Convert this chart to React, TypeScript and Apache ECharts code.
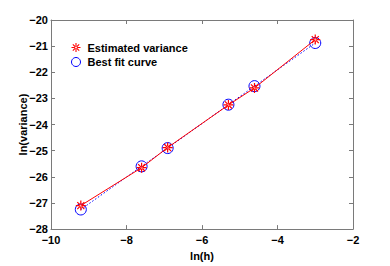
import React, { useEffect, useRef } from "react";
import * as echarts from "echarts";

const lnH = [-9.21, -7.6, -6.91, -5.3, -4.61, -3.0];
const estimatedVariance = [-27.1, -25.65, -24.88, -23.25, -22.6, -20.75];
const bestFit = [-27.25, -25.6, -24.9, -23.24, -22.53, -20.88];
const seriesNames = ["Estimated variance", "Best fit curve"];
const xName = "ln(h)";
const yName = "ln(variance)";

const ASTERISK =
  "path://M-0.6,-5L0.6,-5L0.6,5L-0.6,5ZM-5,-0.6L5,-0.6L5,0.6L-5,0.6Z" +
  "M-3.95,-3.1L3.1,3.95L3.95,3.1L-3.1,-3.95Z" +
  "M3.1,-3.95L-3.95,3.1L-3.1,3.95L3.95,-3.1Z";

const FONT = "'Liberation Sans', Arial, Helvetica, sans-serif";
const AXIS_COLOR = "#7a7a7a";

const fmt = (v: number) => (v < 0 ? "\u2212" + Math.abs(v) : String(v));

export default function App() {
  const ref = useRef<HTMLDivElement>(null);
  useEffect(() => {
    document.body.style.margin = "0";
    if (!ref.current) return;
    const chart = echarts.init(ref.current, null, { renderer: "svg" });
    const tickCommon = {
      show: true,
      inside: true,
      length: 4,
      lineStyle: { color: AXIS_COLOR, width: 1 },
    };
    const lineCommon = { show: true, onZero: false, lineStyle: { color: AXIS_COLOR, width: 1 } };
    const labelCommon = {
      color: "#000",
      fontFamily: FONT,
      fontWeight: "bold" as const,
      fontSize: 11,
      formatter: fmt,
    };
    chart.setOption({
      animation: false,
      backgroundColor: "#fff",
      textStyle: { fontFamily: FONT },
      grid: { left: 51, right: 37, top: 20, bottom: 30, containLabel: false },
      legend: {
        left: 71,
        top: 42,
        padding: 0,
        orient: "vertical",
        itemWidth: 9,
        itemHeight: 9,
        itemGap: 3.5,
        textStyle: { fontFamily: FONT, fontWeight: "bold", fontSize: 11, color: "#000", padding: [0, 0, 0, 2] },
        data: [
          { name: seriesNames[0], icon: ASTERISK, itemStyle: { color: "#ff0000" } },
          {
            name: seriesNames[1],
            icon: "circle",
            itemStyle: { color: "transparent", borderColor: "#0000ff", borderWidth: 1 },
          },
        ],
      },
      xAxis: [
        {
          type: "value",
          min: -10,
          max: -2,
          interval: 2,
          position: "bottom",
          name: xName,
          nameLocation: "middle",
          nameGap: 14,
          nameTextStyle: { fontFamily: FONT, fontWeight: "bold", fontSize: 11, color: "#000" },
          axisLine: lineCommon,
          axisTick: tickCommon,
          axisLabel: { ...labelCommon, margin: 5 },
          splitLine: { show: false },
        },
        {
          type: "value",
          min: -10,
          max: -2,
          interval: 2,
          position: "top",
          axisLine: lineCommon,
          axisTick: tickCommon,
          axisLabel: { show: false },
          splitLine: { show: false },
        },
      ],
      yAxis: [
        {
          type: "value",
          min: -28,
          max: -20,
          interval: 1,
          position: "left",
          name: yName,
          nameLocation: "middle",
          nameGap: 23,
          nameMoveOverlap: false,
          nameTextStyle: { fontFamily: FONT, fontWeight: "bold", fontSize: 11, color: "#000" },
          axisLine: lineCommon,
          axisTick: tickCommon,
          axisLabel: { ...labelCommon, margin: 3 },
          splitLine: { show: false },
        },
        {
          type: "value",
          min: -28,
          max: -20,
          interval: 1,
          position: "right",
          axisLine: lineCommon,
          axisTick: tickCommon,
          axisLabel: { show: false },
          splitLine: { show: false },
        },
      ],
      series: [
        {
          name: seriesNames[0],
          type: "line",
          data: lnH.map((x, i) => [x, estimatedVariance[i]]),
          symbol: ASTERISK,
          symbolSize: 10,
          showAllSymbol: true,
          itemStyle: { color: "#ff0000" },
          lineStyle: { color: "#ff0000", width: 1 },
          z: 3,
        },
        {
          name: seriesNames[1],
          type: "line",
          data: lnH.map((x, i) => [x, bestFit[i]]),
          symbol: "circle",
          symbolSize: 11,
          showAllSymbol: true,
          itemStyle: { color: "transparent", borderColor: "#0000ff", borderWidth: 1 },
          lineStyle: { color: "#0000ff", width: 1, type: [1.5, 2] },
          z: 2,
        },
      ],
    });
    return () => chart.dispose();
  }, []);
  return <div ref={ref} style={{ width: 390, height: 266 }} />;
}
